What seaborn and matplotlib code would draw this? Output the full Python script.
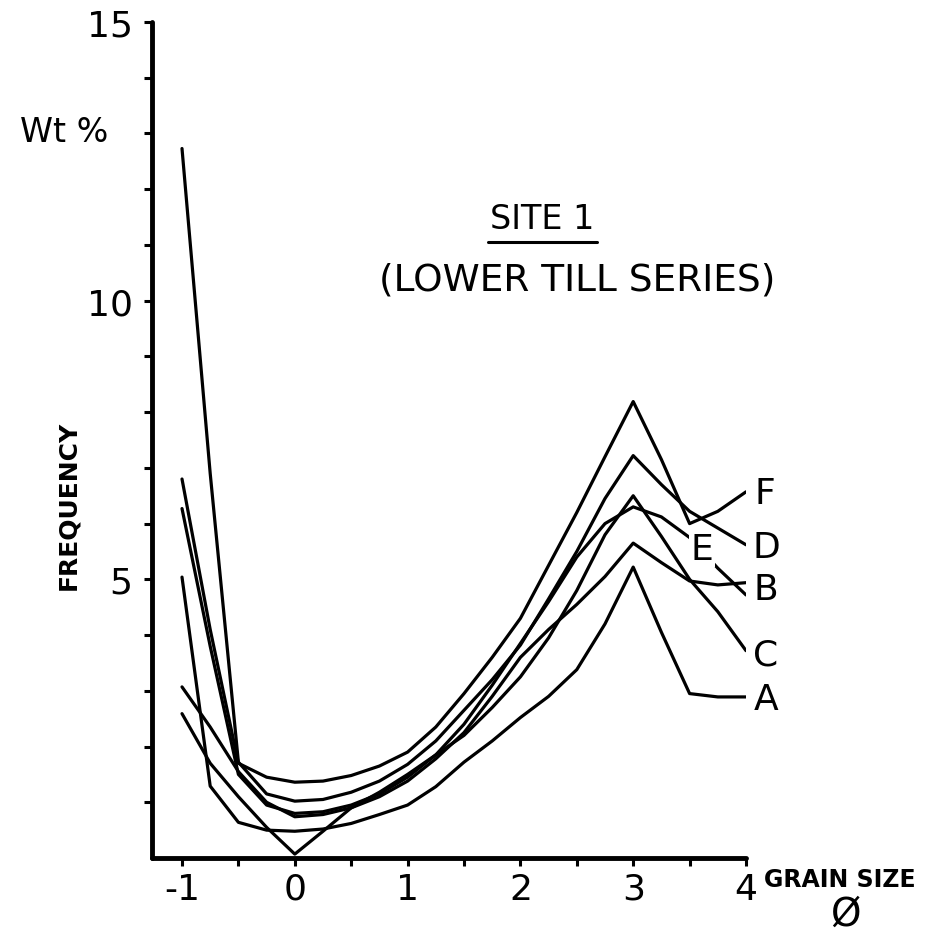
import pandas as pd
import numpy as np
import matplotlib
matplotlib.use('Agg')
import matplotlib.pyplot as plt
import seaborn as sns

sns.set_style('ticks')
plt.rcParams['font.family'] = ['DejaVu Sans']
plt.rcParams['text.color'] = 'black'
plt.rcParams['xtick.color'] = 'black'
plt.rcParams['ytick.color'] = 'black'

# grain size (phi) and weight % per sample
phi = [-1, -0.75, -0.5, -0.25, 0, 0.25, 0.5, 0.75, 1, 1.25, 1.5, 1.75,
       2, 2.25, 2.5, 2.75, 3, 3.25, 3.5, 3.75, 4]
A = [5.04, 1.29, 0.64, 0.50, 0.48, 0.52, 0.62, 0.78, 0.95, 1.28, 1.72, 2.10,
     2.52, 2.90, 3.38, 4.20, 5.22, 4.05, 2.95, 2.89, 2.89]
B = [3.07, 2.35, 1.55, 1.00, 0.74, 0.78, 0.90, 1.10, 1.38, 1.78, 2.25, 2.90,
     3.60, 4.10, 4.55, 5.05, 5.65, 5.30, 4.97, 4.90, 4.94]
C = [2.59, 1.70, 1.10, 0.55, 0.07, 0.48, 0.90, 1.18, 1.50, 1.85, 2.20, 2.70,
     3.25, 3.95, 4.80, 5.80, 6.50, 5.77, 5.00, 4.42, 3.72]
D = [12.73, 6.90, 1.72, 1.15, 1.02, 1.05, 1.18, 1.38, 1.68, 2.10, 2.65, 3.20,
     3.82, 4.65, 5.50, 6.45, 7.22, 6.70, 6.22, 5.92, 5.62]
E = [6.27, 3.80, 1.50, 0.95, 0.80, 0.83, 0.95, 1.15, 1.45, 1.85, 2.40, 3.10,
     3.85, 4.60, 5.40, 6.00, 6.30, 6.12, 5.75, 5.20, 4.72]
F = [6.80, 4.10, 1.70, 1.45, 1.36, 1.38, 1.48, 1.65, 1.90, 2.35, 2.95, 3.60,
     4.30, 5.25, 6.20, 7.20, 8.19, 7.15, 6.00, 6.22, 6.57]

samples = {'A': A, 'B': B, 'C': C, 'D': D, 'E': E, 'F': F}
df = pd.concat([pd.DataFrame({'phi': phi, 'wt': v, 'sample': k})
                for k, v in samples.items()], ignore_index=True)

W, H = 928, 937
fig = plt.figure(figsize=(W / 100, H / 100), dpi=100)
ax = fig.add_axes([152 / W, 1 - 859 / H, (746 - 152) / W, (859 - 23) / H])

sns.lineplot(data=df, x='phi', y='wt', units='sample', estimator=None,
             color='black', lw=2.3, ax=ax, solid_joinstyle='round',
             solid_capstyle='round')

ax.set_xlim(-1 - 30 / 112.8, 4)
ax.set_ylim(0, 15)
sns.despine(ax=ax)
for s in ['left', 'bottom']:
    ax.spines[s].set_linewidth(3.5)
    ax.spines[s].set_color('black')
    ax.spines[s].set_capstyle('round')

xt = np.arange(-1, 4.01, 0.5)
ax.set_xticks(xt)
ax.set_xticklabels([('%d' % v if v == int(v) else '') for v in xt])
yt = np.arange(1, 16)
ax.set_yticks(yt)
ax.set_yticklabels([(str(v) if v % 5 == 0 else '') for v in yt])
ax.tick_params(axis='both', width=2.2, length=6, labelsize=26,
               color='black', labelcolor='black')
ax.tick_params(axis='x', pad=4)
ax.tick_params(axis='y', pad=8)
ax.set_xlabel('')
ax.set_ylabel('')

# curve labels at the right ends
lab_pos = {'F': (765, 494), 'D': (766, 548), 'E': (702, 550),
           'B': (766, 590), 'C': (766, 656), 'A': (766, 700)}
for k, (px, py) in lab_pos.items():
    t = fig.text(px / W, 1 - py / H, k, fontsize=26, ha='center', va='center')
    if k == 'E':
        t.set_bbox(dict(facecolor='white', edgecolor='none', pad=1))

fig.text(542 / W, 1 - 220 / H, 'SITE 1', fontsize=24, ha='center', va='center')
fig.add_artist(plt.Line2D([488 / W, 597 / W], [1 - 243 / H, 1 - 243 / H],
                          color='black', lw=2.2))
fig.text(577 / W, 1 - 281 / H, '(LOWER TILL SERIES)', fontsize=27,
         ha='center', va='center')

fig.text(20 / W, 1 - 132 / H, 'Wt %', fontsize=24, ha='left', va='center')
fig.text(68 / W, 1 - 505 / H, 'FREQUENCY', fontsize=18, fontweight='bold',
         rotation=90, ha='center', va='center',
         family=['Liberation Sans Narrow', 'DejaVu Sans'])
fig.text(840 / W, 1 - 880 / H, 'GRAIN SIZE', fontsize=17, fontweight='bold',
         ha='center', va='center',
         family=['Liberation Sans Narrow', 'DejaVu Sans'])
fig.text(845 / W, 1 - 915 / H, 'Ø', fontsize=28, ha='center', va='center')

fig.savefig('out.png', dpi=100)
